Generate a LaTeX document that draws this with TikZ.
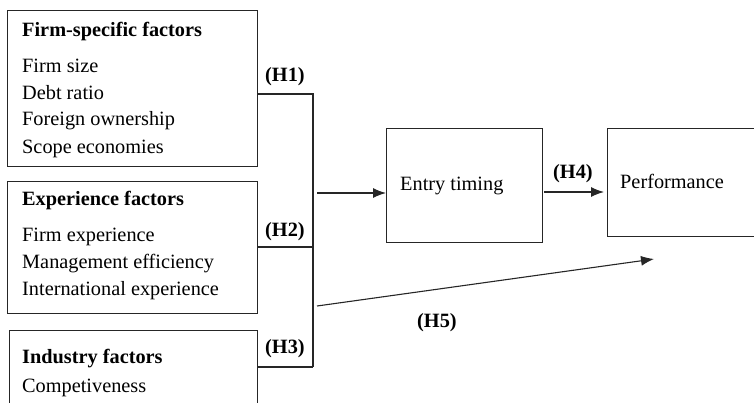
\documentclass[tikz,border=0pt]{standalone}
\usepackage{fontspec}
\setmainfont{Liberation Serif}
\usetikzlibrary{arrows.meta}

\tikzset{
  box/.style={draw=black!85, line width=1pt, inner sep=0pt, outer sep=0pt, anchor=north west},
  txt/.style={anchor=base west, inner sep=0pt, font=\fontsize{20.3}{24}\selectfont},
  hd/.style={txt, font=\fontsize{20.3}{24}\selectfont\bfseries},
  link/.style={draw=black!85, line width=1.1pt},
  arr/.style={link, -{Latex[length=13pt,width=10pt]}}
}

\begin{document}
\begin{tikzpicture}[x=1pt,y=-1pt]
\useasboundingbox (0,0) rectangle (754,402);

% factor boxes on the left
\node[box, minimum width=250pt, minimum height=156pt] (b1) at (7,10) {};
\node[box, minimum width=250pt, minimum height=132pt] (b2) at (7,181) {};
\node[box, minimum width=248pt, minimum height=100pt] (b3) at (9,330) {};

% outcome boxes
\node[box, minimum width=156pt, minimum height=114pt] (entry) at (386,128) {};
\node[box, minimum width=160pt, minimum height=108pt] (perf) at (607,128) {};

% box texts
\node[hd]  (t1)  at (22,36)  {Firm-specific factors};
\node[txt] (t11) at (22,72)  {Firm size};
\node[txt] (t12) at (22,99)  {Debt ratio};
\node[txt] (t13) at (22,125) {Foreign ownership};
\node[txt] (t14) at (22,153) {Scope economies};

\node[hd]  (t2)  at (22,205) {Experience factors};
\node[txt] (t21) at (22,241) {Firm experience};
\node[txt] (t22) at (22,268) {Management efficiency};
\node[txt] (t23) at (22,295) {International experience};

\node[hd]  (t3)  at (22,363) {Industry factors};
\node[txt] (t31) at (22,392) {Competiveness};

\node[txt] (te) at (400,190) {Entry timing};
\node[txt] (tp) at (620,188) {Performance};

% hypothesis labels
\node[hd] (h1) at (265,81)  {(H1)};
\node[hd] (h2) at (265,236) {(H2)};
\node[hd] (h3) at (265,353) {(H3)};
\node[hd] (h4) at (553,178) {(H4)};
\node[hd] (h5) at (417,327) {(H5)};

% collecting bracket
\coordinate (j1) at (313,94);
\coordinate (j2) at (313,247);
\coordinate (j3) at (313,367);
\draw[link] (b1.east |- j1) -- (j1) -- (j3);
\draw[link] (b2.east |- j2) -- (j2);
\draw[link] (b3.east |- j3) -- (j3);

% arrows
\coordinate (s1) at (317,193);
\draw[arr] (s1) -- (entry.west |- s1);
\coordinate (s4) at (544,192);
\draw[arr] (s4) -- ([xshift=-3pt]perf.west |- s4);
\coordinate (s5) at (317,306);
\coordinate (e5) at (654,259);
\draw[arr] (s5) -- (e5);
\end{tikzpicture}
\end{document}
